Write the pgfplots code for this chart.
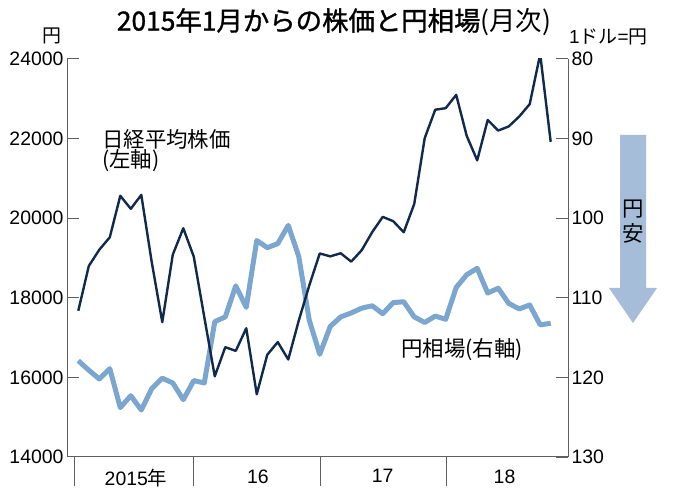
\documentclass[border=0pt]{standalone}
\usepackage{fontspec}
\setmainfont{Liberation Sans}
\newfontfamily\jp{Noto Sans CJK JP}
\newfontfamily\jpb[FakeBold=1.2]{Noto Sans CJK JP}
\usepackage{pgfplots}
\pgfplotsset{compat=1.18}
\definecolor{navy}{RGB}{16,42,78}
\definecolor{lblue}{RGB}{122,166,207}
\definecolor{arrowc}{RGB}{166,189,218}
\definecolor{axgray}{RGB}{95,95,95}

\pgfplotstableread{
i nikkei yen
0 17674 117.9
1 18798 119.1
2 19207 120.2
3 19520 118.9
4 20563 123.8
5 20236 122.3
6 20585 124.1
7 18890 121.4
8 17388 120.1
9 19083 120.7
10 19747 122.8
11 19034 120.4
12 17518 120.7
13 16027 113.0
14 16759 112.4
15 16666 108.5
16 17235 111.2
17 15576 102.8
18 16569 103.7
19 16887 103.2
20 16450 100.9
21 17425 104.8
22 18308 112.8
23 19114 117.1
24 19041 113.6
25 19119 112.4
26 18909 111.9
27 19197 111.3
28 19651 111.0
29 20033 112.0
30 19925 110.6
31 19646 110.5
32 20356 112.4
33 22012 113.1
34 22725 112.3
35 22765 112.7
36 23098 108.7
37 22068 107.1
38 21454 106.3
39 22468 109.4
40 22202 108.8
41 22305 110.7
42 22554 111.4
43 22865 110.9
44 24120 113.4
45 21920 113.2
}\datatable

\begin{document}
\begin{tikzpicture}[x=1bp,y=1bp]
\path[use as bounding box] (0,0) rectangle (680,497);
\pgfplotsset{common/.style={
  at={(67bp,40bp)}, anchor=south west, scale only axis,
  width=501bp, height=398bp, xmin=-1.076, xmax=46.65,
  axis line style={axgray, line width=1pt},
  tick style={axgray, line width=1pt},
  /pgf/number format/assume math mode=true,
  /pgf/number format/1000 sep={},
  scaled y ticks=false,
  ticklabel style={font=\fontsize{19.5}{20}\selectfont, text=black},
}}
% x axis with year separators
\begin{axis}[common,
  axis x line*=bottom, axis y line=none,
  ymin=0, ymax=1, ytick=\empty,
  xtick={-0.4,11,23.1,35.1}, xticklabels={},
  xtick align=outside, major tick length=29bp,
  extra x ticks={5.5,17.1,29,40.6},
  extra x tick labels={{2015{\jp 年}},16,17,18},
  extra x tick style={major tick length=0pt, xticklabel style={yshift=-9bp}},
]
\end{axis}
% yen (right axis, reversed)
\begin{axis}[common,
  axis y line*=right, axis x line=none,
  y dir=reverse, ymin=80, ymax=130,
  ytick={80,90,100,110,120,130},
  ytick align=inside, major tick length=12bp,
  yticklabel style={anchor=west},
]
\addplot[lblue, line width=5bp, line join=round] table[x=i, y=yen] {\datatable};
\end{axis}
% nikkei (left axis)
\begin{axis}[common,
  axis y line*=left, axis x line=none,
  ymin=14000, ymax=24000,
  ytick={14000,16000,18000,20000,22000,24000},
  ytick align=inside, major tick length=12bp,
]
\addplot[navy, line width=2.4bp, line join=round] table[x=i, y=nikkei] {\datatable};
\end{axis}
% texts
\node at (334,475) {\fontsize{26.5}{27}\selectfont{\jpb 2015年1月からの株価と円相場}{\jp (月次)}};
\node at (51.5,461) {\jp\fontsize{19}{19}\selectfont 円};
\node[anchor=west, inner sep=0pt] at (569,460) {\fontsize{19}{19}\selectfont 1{\jp ドル}={\jp 円}};
\node[anchor=north west, align=left, inner sep=0pt, font=\jp\fontsize{21.5}{20.5}\selectfont] at (102,368) {日経平均株価\\(左軸)};
\node[anchor=west, inner sep=0pt] at (401,147) {\jp\fontsize{21.5}{22}\selectfont 円相場(右軸)};
% arrow
\fill[arrowc] (620,362) -- (646,362) -- (646,209) -- (657,209) -- (633,174) -- (609,209) -- (620,209) -- cycle;
\node[align=center, inner sep=0pt, font=\jp\fontsize{21.5}{25}\selectfont] at (633,275) {円\\安};
\end{tikzpicture}
\end{document}
